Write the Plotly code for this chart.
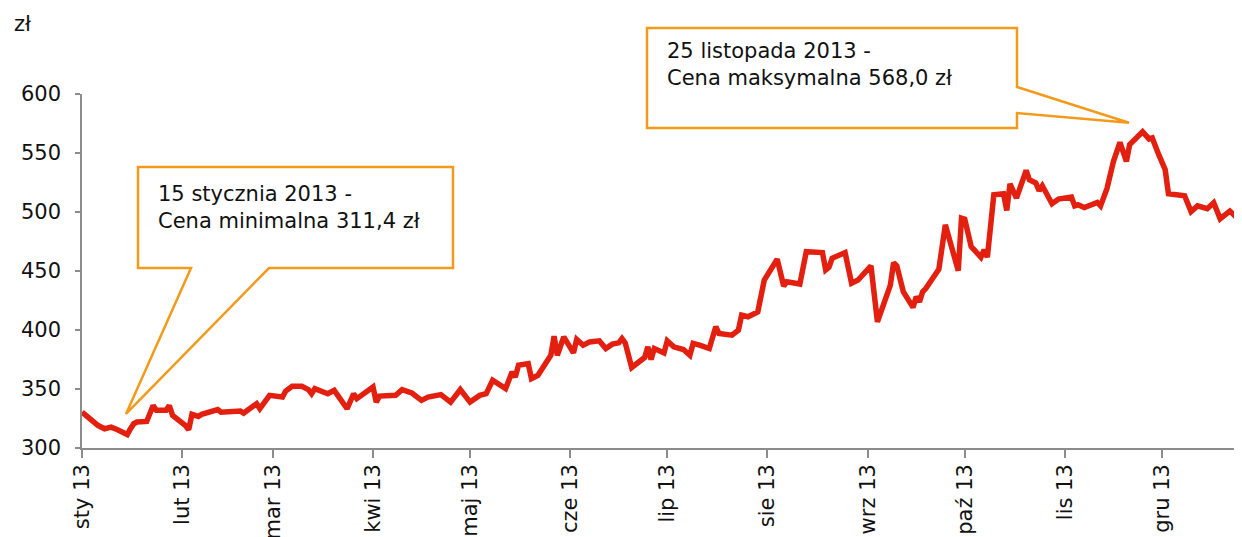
import pandas as pd
import plotly.graph_objects as go

# ---- data ----
start_date = "2013-01-01"
day_offset = [0, 2, 5, 7, 9, 11, 14, 15, 16, 17, 20, 22, 23, 26, 27, 28, 30, 32, 33, 34,
              36, 37, 42, 43, 49, 50, 54, 55, 58, 62, 63, 64, 65, 68, 70, 71, 72, 76, 78, 82,
              84, 85, 90, 91, 92, 97, 99, 102, 105, 107, 111, 114, 117, 120, 123, 125, 127, 131, 133, 134,
              135, 138, 139, 141, 145, 146, 147, 149, 152, 153, 155, 157, 160, 162, 164, 166, 167, 168, 170, 174,
              175, 176, 177, 180, 181, 183, 186, 188, 189, 191, 194, 196, 197, 201, 203, 204, 206, 209, 211, 215,
              217, 218, 222, 224, 229, 230, 231, 232, 236, 238, 240, 244, 246, 250, 251, 252, 254, 257, 258, 259,
              260, 261, 264, 265, 267, 269, 271, 272, 273, 275, 278, 279, 280, 282, 285, 286, 287, 289, 292, 293,
              295, 296, 297, 300, 302, 306, 307, 308, 310, 314, 315, 317, 319, 321, 323, 324, 328, 330, 331, 333,
              335, 336, 341, 343, 345, 348, 350, 352, 355, 359]
price = [330.4, 326.2, 319.0, 316.3, 317.7, 315.5, 311.4, 316.3, 320.6, 322.0, 322.5, 336.0, 331.9, 331.9, 336.0, 327.6, 323.4, 319.0, 315.5, 328.5,
         326.8, 328.5, 332.5, 330.4, 331.3, 329.6, 337.5, 333.3, 344.6, 343.2, 348.3, 350.3, 352.3, 352.3, 349.5, 346.0, 350.3, 346.0, 348.9, 333.3,
         346.0, 341.8, 351.7, 338.9, 344.0, 344.6, 349.5, 346.6, 340.4, 343.2, 345.2, 338.9, 349.5, 338.9, 344.6, 346.0, 357.4, 350.3, 364.4, 360.2,
         370.1, 371.5, 358.8, 361.6, 378.6, 394.8, 378.6, 394.2, 380.6, 392.0, 387.1, 389.9, 390.8, 384.3, 388.0, 389.1, 392.8, 389.1, 368.2, 376.7,
         385.7, 375.0, 384.3, 380.6, 390.8, 385.7, 383.5, 378.6, 388.6, 387.1, 384.3, 402.7, 397.1, 395.6, 399.9, 412.6, 411.2, 415.4, 442.3, 460.0,
         437.3, 440.9, 439.0, 466.4, 465.6, 450.9, 453.1, 460.8, 465.6, 439.6, 442.3, 454.3, 406.9, 438.1, 457.1, 454.3, 432.4, 419.2, 428.2, 423.9,
         432.4, 435.3, 447.5, 451.5, 489.1, 467.9, 450.3, 494.8, 493.9, 470.7, 461.7, 467.9, 461.7, 514.6, 515.5, 501.3, 523.9, 511.8, 535.3, 527.3,
         524.5, 518.0, 522.2, 507.0, 511.0, 512.6, 505.2, 506.1, 503.8, 508.1, 505.2, 520.0, 543.0, 559.0, 542.9, 557.1, 568.0, 561.9, 562.8, 548.6,
         535.8, 515.5, 513.8, 500.4, 505.2, 502.8, 507.8, 494.3, 500.8, 490.5]
tick_dates = ["2013-01-01", "2013-02-01", "2013-03-01", "2013-04-01", "2013-05-01", "2013-06-01",
              "2013-07-01", "2013-08-01", "2013-09-01", "2013-10-01", "2013-11-01", "2013-12-01"]
tick_labels = ["sty 13", "lut 13", "mar 13", "kwi 13", "maj 13", "cze 13",
               "lip 13", "sie 13", "wrz 13", "paź 13", "lis 13", "gru 13"]
y_ticks = [300, 350, 400, 450, 500, 550, 600]
unit_label = "zł"
note_min = "15 stycznia 2013 -<br>Cena minimalna 311,4 zł"
note_max = "25 listopada 2013 -<br>Cena maksymalna 568,0 zł"

dates = pd.Timestamp(start_date) + pd.to_timedelta(day_offset, unit="D")

# ---- layout geometry (page body has an 8px margin) ----
OFF = 8
WIN_W, WIN_H = 1242, 537
W, H = WIN_W - OFF, WIN_H - OFF
PL, PR, PT, PB = 82, 1242, 94, 448          # plot area in window pixels
ML, MR, MT, MB = PL - OFF, WIN_W - PR, PT - OFF, WIN_H - PB
PW, PH = PR - PL, PB - PT
FONT = "DejaVu Sans, Verdana, sans-serif"
FS = 21
ORANGE = "#F39A1B"
RED = "#E3200F"
AXIS = "#8C8C8C"
TXT = "#111111"


def px(x, y):
    return (x - PL) / PW, (PB - y) / PH


def path(points):
    s = ""
    for i, (x, y) in enumerate(points):
        u, v = px(x, y)
        s += ("M" if i == 0 else "L") + f"{u:.5f},{v:.5f} "
    return s + "Z"


fig = go.Figure()
fig.add_trace(go.Scatter(x=dates, y=price, mode="lines",
                         line=dict(color=RED, width=5.5), hoverinfo="x+y"))

x_end = pd.Timestamp(start_date) + pd.Timedelta(days=358.75)

fig.update_layout(
    width=W, height=H,
    margin=dict(l=ML, r=MR, t=MT, b=MB, autoexpand=False),
    paper_bgcolor="white", plot_bgcolor="white",
    showlegend=False,
    font=dict(family=FONT, size=FS, color=TXT),
    xaxis=dict(type="date", range=[pd.Timestamp(start_date), x_end],
               tickvals=pd.to_datetime(tick_dates), ticktext=tick_labels,
               tickangle=-90, showgrid=False, zeroline=False, automargin=False,
               showline=True, linecolor=AXIS, linewidth=1.5,
               ticks="outside", ticklen=8, tickcolor=AXIS, tickwidth=1.5,
               ticklabelstandoff=-2,
               tickfont=dict(family=FONT, size=FS, color=TXT)),
    yaxis=dict(range=[300, 600], tickvals=y_ticks, showgrid=False, zeroline=False,
               automargin=False,
               showline=True, linecolor=AXIS, linewidth=1.5,
               ticks="outside", ticklen=5, tickcolor=AXIS, tickwidth=1.5,
               ticklabelstandoff=10,
               tickfont=dict(family=FONT, size=FS, color=TXT)),
)

# callout boxes
box_min = [(138, 167), (453, 167), (453, 268), (269, 268), (126, 414), (191, 268), (138, 268)]
box_max = [(647, 28), (1017, 28), (1017, 87), (1129, 122.7), (1017, 113), (1017, 128), (647, 128)]
for pts in (box_min, box_max):
    fig.add_shape(type="path", path=path(pts), xref="paper", yref="paper",
                  line=dict(color=ORANGE, width=2.5), fillcolor="white", layer="above")

ux, uy = px(12, 24)
fig.add_annotation(text=unit_label, xref="paper", yref="paper", x=ux, y=uy,
                   xanchor="left", yanchor="middle", showarrow=False,
                   font=dict(family=FONT, size=FS, color=TXT))
ax1, ay1 = px(156, 180)
fig.add_annotation(text=note_min, xref="paper", yref="paper", x=ax1, y=ay1,
                   xanchor="left", yanchor="top", align="left", showarrow=False,
                   font=dict(family=FONT, size=FS, color=TXT))
ax2, ay2 = px(665, 37)
fig.add_annotation(text=note_max, xref="paper", yref="paper", x=ax2, y=ay2,
                   xanchor="left", yanchor="top", align="left", showarrow=False,
                   font=dict(family=FONT, size=FS, color=TXT))

fig.write_html("out.html")
